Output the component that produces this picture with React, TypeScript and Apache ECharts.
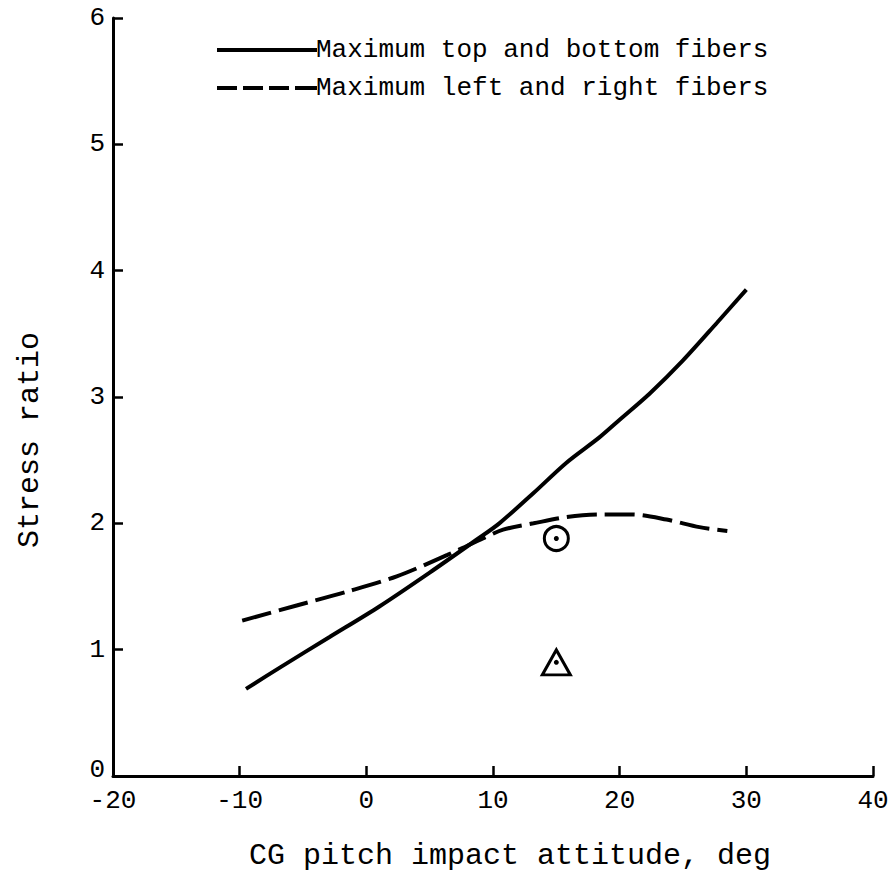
import React, { useEffect, useRef } from "react";
import * as echarts from "echarts";

const topBottomX = [-9.5, -6.8, -2.9, 1.0, 5.0, 8.7, 10.5, 13.2, 15.8, 18.4, 20.0, 22.4, 25.0, 27.7, 30.0];
const topBottomY = [0.69, 0.86, 1.10, 1.34, 1.61, 1.87, 2.0, 2.24, 2.48, 2.68, 2.82, 3.03, 3.29, 3.59, 3.85];

const leftRightX = [-9.8, -5.5, -1.5, 2.4, 6.4, 9.2, 10.8, 13.2, 15.8, 18.4, 21.0, 23.7, 26.3, 28.5];
const leftRightY = [1.23, 1.35, 1.46, 1.58, 1.75, 1.88, 1.95, 2.0, 2.05, 2.07, 2.07, 2.03, 1.97, 1.94];

const circlePoint = [15, 1.88];
const trianglePoint = [15, 0.9];

const seriesNames = ["Maximum top and bottom fibers", "Maximum left and right fibers"];
const xTitle = "CG pitch impact attitude, deg";
const yTitle = "Stress ratio";

const FONT = "Liberation Mono";

export default function App() {
  const ref = useRef<HTMLDivElement>(null);
  useEffect(() => {
    if (!ref.current) return;
    const chart = echarts.init(ref.current, null, { renderer: "svg" });
    const black = "#000";
    chart.setOption({
      animation: false,
      backgroundColor: "#fff",
      grid: { left: 113, right: 19, top: 18, bottom: 107, containLabel: false, outerBoundsMode: "none" },
      legend: {
        data: [
          { name: seriesNames[0], icon: "path://M0,0h100v4h-100z" },
          {
            name: seriesNames[1],
            icon: "path://M0,0h20v4h-20zM26,0h20v4h-20zM52,0h20v4h-20zM78,0h22v4h-22z",
          },
        ],
        orient: "vertical",
        left: 212,
        top: 32,
        itemWidth: 100,
        itemHeight: 4,
        itemGap: 12,
        itemStyle: { color: black },
        textStyle: { fontFamily: FONT, fontSize: 26, color: black, padding: [0, 0, 0, -6] },
        selectedMode: false,
      },
      xAxis: {
        type: "value",
        min: -20,
        max: 40,
        interval: 10,
        axisLine: { onZero: false, lineStyle: { color: black, width: 3 } },
        axisTick: { inside: true, length: 10, lineStyle: { color: black, width: 2.5 } },
        axisLabel: { color: black, fontFamily: FONT, fontSize: 26, margin: 12 },
        splitLine: { show: false },
      },
      yAxis: {
        type: "value",
        min: 0,
        max: 6,
        interval: 1,
        axisLine: { onZero: false, lineStyle: { color: black, width: 3 } },
        axisTick: { inside: true, length: 10, lineStyle: { color: black, width: 2.5 } },
        axisLabel: {
          color: black,
          fontFamily: FONT,
          fontSize: 26,
          margin: 8,
          formatter: (v: number) => (v === 0 ? "{z|0}" : String(v)),
          rich: { z: { fontFamily: FONT, fontSize: 26, color: black, padding: [0, 0, 12, 0] } },
        },
        splitLine: { show: false },
      },
      graphic: [
        {
          type: "text",
          x: 510,
          y: 856,
          style: { text: xTitle, fontFamily: FONT, fontSize: 30, fill: black, align: "center", verticalAlign: "middle" },
        },
        {
          type: "text",
          x: 30,
          y: 440,
          rotation: Math.PI / 2,
          style: { text: yTitle, fontFamily: FONT, fontSize: 30, fill: black, align: "center", verticalAlign: "middle" },
        },
      ],
      series: [
        {
          name: seriesNames[0],
          type: "line",
          smooth: 0.3,
          symbol: "none",
          data: topBottomX.map((x, i) => [x, topBottomY[i]]),
          lineStyle: { color: black, width: 4 },
          itemStyle: { color: black },
        },
        {
          name: seriesNames[1],
          type: "line",
          smooth: 0.3,
          symbol: "none",
          data: leftRightX.map((x, i) => [x, leftRightY[i]]),
          lineStyle: { color: black, width: 4, type: [30, 8] },
          itemStyle: { color: black },
        },
        {
          type: "scatter",
          symbol: "circle",
          symbolSize: 24,
          data: [circlePoint],
          itemStyle: { color: "#fff", borderColor: black, borderWidth: 3, opacity: 1 },
          z: 3,
        },
        {
          type: "scatter",
          symbol: "triangle",
          symbolSize: [28, 25],
          data: [trianglePoint],
          itemStyle: { color: "#fff", borderColor: black, borderWidth: 3, opacity: 1 },
          z: 3,
        },
        {
          type: "scatter",
          symbol: "circle",
          symbolSize: 5,
          data: [circlePoint, trianglePoint],
          itemStyle: { color: black, opacity: 1 },
          z: 4,
        },
      ],
    });
    return () => chart.dispose();
  }, []);
  return <div ref={ref} style={{ position: "fixed", left: 0, top: 0, width: 892, height: 883 }} />;
}
